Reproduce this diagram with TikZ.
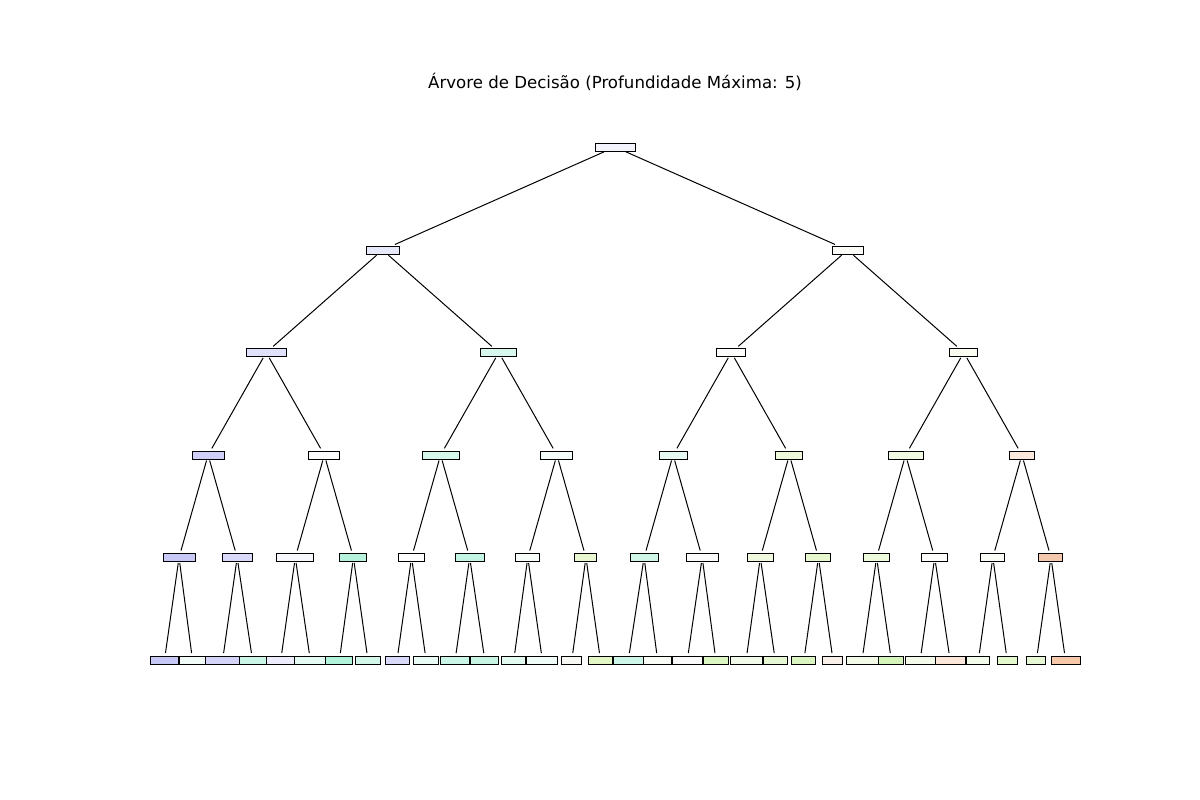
\documentclass[tikz,border=0pt]{standalone}
\usepackage{fontspec}
\setmainfont{DejaVu Sans}
\begin{document}
\begin{tikzpicture}[x=1pt,y=-1pt,
  tn/.style={draw=black, line width=1pt, rectangle, inner sep=0pt, minimum height=8pt},
  edge/.style={draw=black, line width=1pt, shorten <=1pt, shorten >=2.5pt},
  ttl/.style={font=\fontsize{16.6}{20}\selectfont, inner sep=0pt}]
\useasboundingbox[fill=white] (0,0) rectangle (1200,800);
\node[ttl] (title) at (615,82) {Árvore de Decisão (Profundidade Máxima: 5)};
% level 0
\node[tn, minimum width=40pt, fill={rgb,255:red,244;green,244;blue,253}] (r) at (615,147) {};
% level 1
\node[tn, minimum width=33pt, fill={rgb,255:red,232;green,232;blue,251}] (a0) at (382.5,250) {};
\node[tn, minimum width=31pt, fill={rgb,255:red,252;green,253;blue,248}] (a1) at (847.5,250) {};
% level 2
\node[tn, minimum width=40pt, fill={rgb,255:red,224;green,224;blue,250}] (b0) at (266.2,352.5) {};
\node[tn, minimum width=36pt, fill={rgb,255:red,216;green,248;blue,239}] (b1) at (498.8,352.5) {};
\node[tn, minimum width=29pt, fill={rgb,255:red,253;green,253;blue,252}] (b2) at (731.3,352.5) {};
\node[tn, minimum width=28pt, fill={rgb,255:red,250;green,253;blue,242}] (b3) at (963.8,352.5) {};
% level 3
\node[tn, minimum width=32pt, fill={rgb,255:red,207;green,207;blue,248}] (c0) at (208.1,455) {};
\node[tn, minimum width=31pt, fill={rgb,255:red,252;green,252;blue,254}] (c1) at (324.35,455) {};
\node[tn, minimum width=37pt, fill={rgb,255:red,213;green,248;blue,234}] (c2) at (440.6,455) {};
\node[tn, minimum width=32pt, fill={rgb,255:red,245;green,253;blue,250}] (c3) at (556.9,455) {};
\node[tn, minimum width=28pt, fill={rgb,255:red,230;green,250;blue,243}] (c4) at (673.1,455) {};
\node[tn, minimum width=27pt, fill={rgb,255:red,238;green,249;blue,220}] (c5) at (789.4,455) {};
\node[tn, minimum width=35pt, fill={rgb,255:red,240;green,250;blue,227}] (c6) at (905.6,455) {};
\node[tn, minimum width=25pt, fill={rgb,255:red,251;green,233;blue,221}] (c7) at (1021.9,455) {};
% level 4
\node[tn, minimum width=32pt, fill={rgb,255:red,201;green,201;blue,247}] (d0) at (179.03,557.5) {};
\node[tn, minimum width=30pt, fill={rgb,255:red,217;green,217;blue,249}] (d1) at (237.16,557.5) {};
\node[tn, minimum width=37pt, fill={rgb,255:red,247;green,247;blue,254}] (d2) at (295.29,557.5) {};
\node[tn, minimum width=27pt, fill={rgb,255:red,182;green,243;blue,221}] (d3) at (353.42,557.5) {};
\node[tn, minimum width=26pt, fill={rgb,255:red,253;green,253;blue,253}] (d4) at (411.55,557.5) {};
\node[tn, minimum width=29pt, fill={rgb,255:red,194;green,245;blue,227}] (d5) at (469.68,557.5) {};
\node[tn, minimum width=24pt, fill={rgb,255:red,248;green,253;blue,249}] (d6) at (527.81,557.5) {};
\node[tn, minimum width=22pt, fill={rgb,255:red,233;green,248;blue,208}] (d7) at (585.94,557.5) {};
\node[tn, minimum width=28pt, fill={rgb,255:red,208;green,246;blue,232}] (d8) at (644.07,557.5) {};
\node[tn, minimum width=32pt, fill={rgb,255:red,251;green,251;blue,251}] (d9) at (702.19,557.5) {};
\node[tn, minimum width=26pt, fill={rgb,255:red,238;green,249;blue,221}] (d10) at (760.32,557.5) {};
\node[tn, minimum width=25pt, fill={rgb,255:red,231;green,248;blue,206}] (d11) at (818.45,557.5) {};
\node[tn, minimum width=26pt, fill={rgb,255:red,238;green,250;blue,220}] (d12) at (876.58,557.5) {};
\node[tn, minimum width=26pt, fill={rgb,255:red,253;green,253;blue,252}] (d13) at (934.71,557.5) {};
\node[tn, minimum width=24pt, fill={rgb,255:red,250;green,252;blue,247}] (d14) at (992.84,557.5) {};
\node[tn, minimum width=24pt, fill={rgb,255:red,245;green,201;blue,173}] (d15) at (1050.97,557.5) {};
% leaves
\node[tn, minimum width=28pt, fill={rgb,255:red,200;green,200;blue,247}] (e0) at (164.5,660) {};
\node[tn, minimum width=27pt, fill={rgb,255:red,241;green,252;blue,248}] (e1) at (192.5,660) {};
\node[tn, minimum width=35pt, fill={rgb,255:red,212;green,212;blue,249}] (e2) at (222.63,660) {};
\node[tn, minimum width=27pt, fill={rgb,255:red,201;green,246;blue,230}] (e3) at (252.5,660) {};
\node[tn, minimum width=29pt, fill={rgb,255:red,236;green,236;blue,252}] (e4) at (280.76,660) {};
\node[tn, minimum width=31pt, fill={rgb,255:red,229;green,250;blue,242}] (e5) at (310.3,660) {};
\node[tn, minimum width=27pt, fill={rgb,255:red,176;green,243;blue,218}] (e6) at (339.4,660) {};
\node[tn, minimum width=25pt, fill={rgb,255:red,210;green,247;blue,233}] (e7) at (367.95,660) {};
\node[tn, minimum width=24pt, fill={rgb,255:red,217;green,217;blue,249}] (e8) at (397.02,660) {};
\node[tn, minimum width=25pt, fill={rgb,255:red,232;green,251;blue,244}] (e9) at (426.08,660) {};
\node[tn, minimum width=29pt, fill={rgb,255:red,201;green,246;blue,230}] (e10) at (455.15,660) {};
\node[tn, minimum width=28pt, fill={rgb,255:red,198;green,245;blue,228}] (e11) at (484.8,660) {};
\node[tn, minimum width=24pt, fill={rgb,255:red,227;green,250;blue,241}] (e12) at (513.8,660) {};
\node[tn, minimum width=31pt, fill={rgb,255:red,240;green,252;blue,248}] (e13) at (542.34,660) {};
\node[tn, minimum width=20pt, fill={rgb,255:red,247;green,247;blue,243}] (e14) at (571.8,660) {};
\node[tn, minimum width=24pt, fill={rgb,255:red,226;green,247;blue,196}] (e15) at (600.47,660) {};
\node[tn, minimum width=30pt, fill={rgb,255:red,206;green,246;blue,232}] (e16) at (628.3,660) {};
\node[tn, minimum width=28pt, fill={rgb,255:red,248;green,252;blue,245}] (e17) at (657.6,660) {};
\node[tn, minimum width=30pt, fill={rgb,255:red,250;green,250;blue,250}] (e18) at (687.3,660) {};
\node[tn, minimum width=25pt, fill={rgb,255:red,220;green,246;blue,194}] (e19) at (715.9,660) {};
\node[tn, minimum width=32pt, fill={rgb,255:red,242;green,250;blue,234}] (e20) at (746.1,660) {};
\node[tn, minimum width=24pt, fill={rgb,255:red,229;green,248;blue,211}] (e21) at (775.2,660) {};
\node[tn, minimum width=24pt, fill={rgb,255:red,219;green,245;blue,192}] (e22) at (803.92,660) {};
\node[tn, minimum width=20pt, fill={rgb,255:red,248;green,239;blue,233}] (e23) at (832.98,660) {};
\node[tn, minimum width=32pt, fill={rgb,255:red,243;green,251;blue,232}] (e24) at (862.05,660) {};
\node[tn, minimum width=25pt, fill={rgb,255:red,213;green,244;blue,185}] (e25) at (891.3,660) {};
\node[tn, minimum width=30pt, fill={rgb,255:red,244;green,251;blue,235}] (e26) at (920.18,660) {};
\node[tn, minimum width=30pt, fill={rgb,255:red,251;green,231;blue,218}] (e27) at (950.1,660) {};
\node[tn, minimum width=23pt, fill={rgb,255:red,243;green,251;blue,234}] (e28) at (978.4,660) {};
\node[tn, minimum width=20pt, fill={rgb,255:red,227;green,247;blue,205}] (e29) at (1007.2,660) {};
\node[tn, minimum width=19pt, fill={rgb,255:red,230;green,248;blue,212}] (e30) at (1036.44,660) {};
\node[tn, minimum width=29pt, fill={rgb,255:red,245;green,200;blue,170}] (e31) at (1065.5,660) {};
% edges
\draw[edge] (r) -- (a0);
\draw[edge] (r) -- (a1);
\draw[edge] (a0) -- (b0);
\draw[edge] (a0) -- (b1);
\draw[edge] (a1) -- (b2);
\draw[edge] (a1) -- (b3);
\foreach \p/\l/\r in {b0/c0/c1, b1/c2/c3, b2/c4/c5, b3/c6/c7,
  c0/d0/d1, c1/d2/d3, c2/d4/d5, c3/d6/d7, c4/d8/d9, c5/d10/d11, c6/d12/d13, c7/d14/d15,
  d0/e0/e1, d1/e2/e3, d2/e4/e5, d3/e6/e7, d4/e8/e9, d5/e10/e11, d6/e12/e13, d7/e14/e15,
  d8/e16/e17, d9/e18/e19, d10/e20/e21, d11/e22/e23, d12/e24/e25, d13/e26/e27, d14/e28/e29, d15/e30/e31}
{
  \draw[edge] (\p) -- (\l);
  \draw[edge] (\p) -- (\r);
}
\end{tikzpicture}
\end{document}
